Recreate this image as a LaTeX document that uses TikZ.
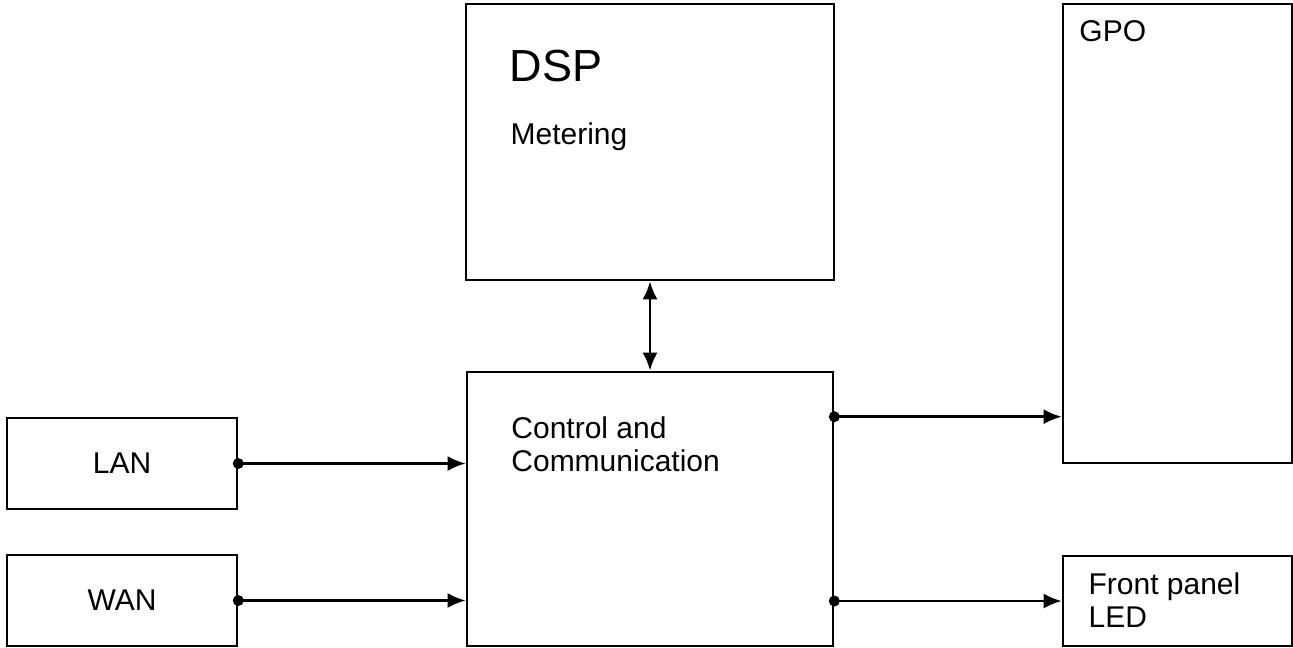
\documentclass[tikz,border=0pt]{standalone}
\usepackage{fontspec}
\setmainfont{Liberation Sans}
\usetikzlibrary{arrows.meta}

\begin{document}
\begin{tikzpicture}[->,>={Latex[length=9pt,width=7.5pt]},line width=1.3pt,
    font=\fontsize{15}{16.75}\selectfont,
    box/.style={draw,rectangle,inner sep=0pt},
    lbl/.style={anchor=base west,inner sep=0pt,align=left},
    dot/.style={fill,circle,inner sep=0pt,minimum size=5.5pt}]
    \useasboundingbox (0,0) rectangle (646.5pt,-323.5pt);
    \node[box,minimum width=184pt,minimum height=138pt] (dsp) at (325pt,-71pt) {};
    \node[box,minimum width=183pt,minimum height=137pt] (ctrl) at (325pt,-254.5pt) {};
    \node[box,minimum width=114.5pt,minimum height=229.5pt] (gpo) at (588.75pt,-116.75pt) {};
    \node[box,minimum width=114.5pt,minimum height=45pt] (led) at (588.75pt,-300.5pt) {};
    \node[box,minimum width=115pt,minimum height=45.5pt] (lan) at (61pt,-231.75pt) {LAN};
    \node[box,minimum width=115pt,minimum height=45.5pt] (wan) at (61pt,-300.25pt) {WAN};
    % texts at the top left of the boxes (base = last line)
    \node[lbl,font=\fontsize{22.5}{26}\selectfont] (dsptxt) at ([shift={(21.8pt,-39.5pt)}]dsp.north west) {DSP};
    \node[lbl] (mtr) at ([shift={(22.3pt,-71pt)}]dsp.north west) {Metering};
    \node[lbl] (ctrltxt) at ([shift={(22.2pt,-50.5pt)}]ctrl.north west) {Control and\\Communication};
    \node[lbl] (gpotxt) at ([shift={(8.2pt,-19.5pt)}]gpo.north west) {GPO};
    \node[lbl] (ledtxt) at ([shift={(12.8pt,-36.5pt)}]led.north west) {Front panel\\LED};
    \coordinate (gpoin) at ([yshift=-23pt]ctrl.north east);
    \draw[<->] (dsp.south) -- (ctrl.north);
    \draw (lan.east) -- (lan.east -| ctrl.west);
    \draw (wan.east) -- (wan.east -| ctrl.west);
    \draw (gpoin) -- (gpoin -| gpo.west);
    \draw (ctrl.east |- led.west) -- (led.west);
    \node[dot] at (lan.east) {};
    \node[dot] at (wan.east) {};
    \node[dot] at (gpoin) {};
    \node[dot] at (ctrl.east |- led.west) {};
\end{tikzpicture}
\end{document}
